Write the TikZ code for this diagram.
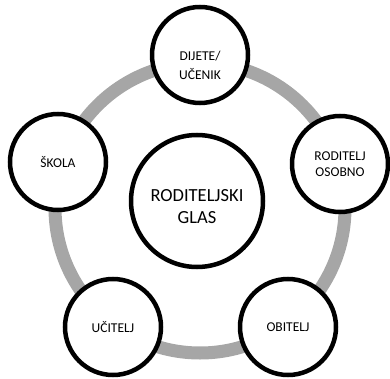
\documentclass[tikz,border=0pt]{standalone}
\usepackage{fontspec}
\setmainfont{Carlito}

\begin{document}
\begin{tikzpicture}[x=1pt,y=-1pt,
  krug/.style={circle,draw=black,line width=4.5pt,fill=white,inner sep=0pt,
    minimum size=96pt,align=center,font=\fontsize{13.5}{15.5}\selectfont},
  glavni/.style={krug,minimum size=132pt,font=\fontsize{18.5}{22}\selectfont},
  prsten/.style={draw=black!35,line width=13pt}]
\useasboundingbox (0,0) rectangle (390,379);

% sivi prsten iza krugova
\coordinate (sredina) at (200,208);
\draw[prsten] (sredina) circle (145pt);

\node[glavni] (glas) at (197,201) {\rule{0pt}{24pt}RODITELJSKI\\GLAS};

\node[krug] (dijete) at (200,55) {\rule{0pt}{30pt}DIJETE/\\[4pt]UČENIK};
\node[krug] (roditelj) at (340,164) {RODITELJ\\OSOBNO};
\node[krug] (obitelj) at (288,327) {OBITELJ};
\node[krug] (ucitelj) at (113,327) {UČITELJ};
\node[krug] (skola) at (58,162) {ŠKOLA};

\end{tikzpicture}
\end{document}
